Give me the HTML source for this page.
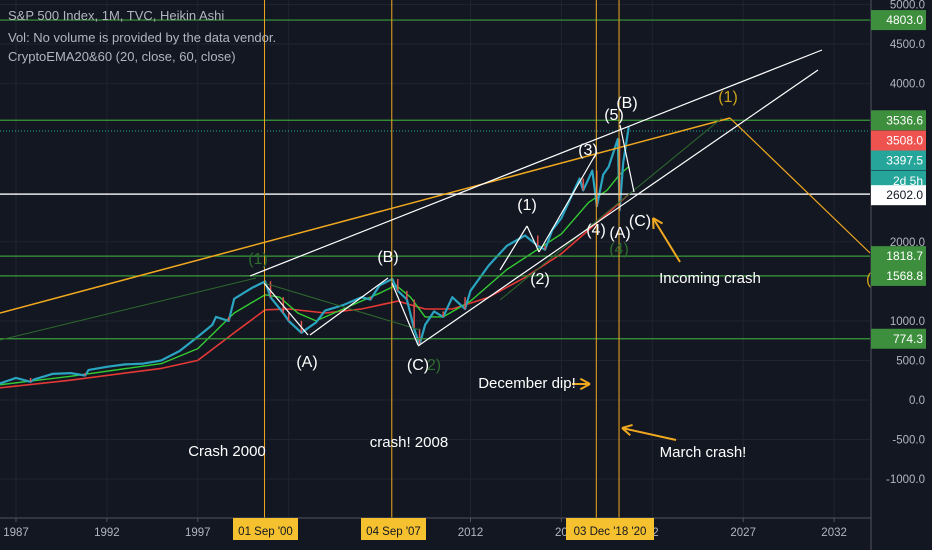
<!DOCTYPE html>
<html><head><meta charset="utf-8">
<style>
html,body{margin:0;padding:0;background:#131722;}
svg{display:block;font-family:"Liberation Sans",sans-serif;}
</style></head>
<body>
<svg id="chart" width="932" height="550" viewBox="0 0 932 550">
<rect x="0" y="0" width="932" height="550" fill="#131722"/>
<g id="grid"></g>
<g id="plot"></g>
<g id="annot"></g>
<g id="axes"></g>
</svg>
<script>
const priceYears=[1986,1987,1987.8,1988,1989,1990,1990.8,1991,1992,1993,1994,1995,1996,1997,1997.8,1998,1998.7,1999,1999.5,2000,2000.7,2001,2001.7,2002,2002.7,2003,2003.5,2004,2005,2006,2006.5,2007,2007.7,2008,2008.5,2008.9,2009.2,2009.5,2010,2010.5,2011,2011.7,2012,2013,2014,2015,2015.7,2016.1,2016.5,2017,2018,2018.2,2018.7,2018.95,2019.3,2019.6,2020.1,2020.2,2020.4,2020.7];
const priceValues=[200,280,230,260,330,340,310,380,420,450,460,500,620,800,950,1050,1000,1280,1350,1420,1500,1300,1100,1000,850,900,980,1130,1200,1300,1270,1450,1530,1380,1270,900,700,950,1120,1050,1300,1150,1380,1700,1950,2080,1950,1900,2150,2300,2800,2650,2900,2450,2850,2950,3300,2400,3000,3450];
const ema20Years=[1986,1990,1995,1997,1999,2000.7,2001.5,2002.5,2003.5,2005,2007,2007.9,2008.7,2009.5,2010.5,2012,2014,2016,2017,2018.5,2019.5,2020.2,2020.7];
const ema20Values=[190,300,460,650,1100,1330,1300,1100,1000,1150,1350,1450,1300,1050,1050,1250,1650,1950,2100,2500,2650,2850,2950];
const ema60Years=[1986,1990,1995,1997,1999,2000.7,2002,2004,2006,2008,2009.5,2011,2013,2015,2017,2018.5,2019.5,2020.7];
const ema60Values=[150,250,400,500,850,1140,1150,1100,1150,1250,1150,1150,1300,1550,1850,2150,2350,2600];
const xTickYears=[1987,1992,1997,2002,2012,2017,2022,2027,2032];
const xTickLabels=["1987","1992","1997","","2012","20","22","2027","2032"];
const yTicks=[5000,4500,4000,2000,1000,500,0,-500,-1000];

const NS="http://www.w3.org/2000/svg";
const X=y=>16+(y-1987)*18.18;
const Y=v=>400-v*0.0791;
function mk(tag,attrs,parent,text){const e=document.createElementNS(NS,tag);for(const k in attrs)e.setAttribute(k,attrs[k]);if(text!==undefined)e.textContent=text;parent.appendChild(e);return e;}
const grid=document.getElementById('grid'),plot=document.getElementById('plot'),annot=document.getElementById('annot'),axes=document.getElementById('axes');

xTickYears.forEach(y=>{const l=mk('line',{x1:X(y),x2:X(y),y1:0,y2:518,stroke:'#1f2431','stroke-width':1},grid);

});
yTicks.forEach(v=>{const l=mk('line',{x1:0,x2:870,y1:Y(v),y2:Y(v),stroke:'#1f2431','stroke-width':1},grid);

});

function line(x1,y1,x2,y2,c,w,name,extra){const l=mk('line',Object.assign({x1,y1,x2,y2,stroke:c,'stroke-width':w},extra||{}),annot);return l;}
[4803,3536.6,1818.7,1568.8,774.3].forEach(v=>line(0,Y(v),870,Y(v),'#3a9a3a',1.2,'level-line'));
line(0,Y(2602),870,Y(2602),'#e8e8e8',1.5,'level-line-2602');
line(0,131,870,131,'#26a69a',1,'last-price-line',{'stroke-dasharray':'1,2'});
[2000.67,2007.67,2018.92,2020.17].forEach(y=>line(X(y),0,X(y),518,'#f0a81f',1,'event-line'));
line(0,313,730,118,'#f0a81f',1.5,'orange-trendline');
line(730,118,870,253,'#f0a81f',1.2,'orange-projection');
line(0,340,256,278,'#2e6b2e',1,'green-wave-line');
line(264,283,420,330,'#2e6b2e',1,'green-wave-line');
line(500,300,722,118,'#2e6b2e',1,'green-wave-line');
line(250,276,822,50,'#ffffff',1.2,'upper-channel');
line(418,346,818,70,'#ffffff',1.2,'lower-channel');

function poly(ys,vs,c,w,name,dash){const pts=ys.map((y,i)=>X(y).toFixed(1)+','+Y(vs[i]).toFixed(1)).join(' ');const p=mk('polyline',{points:pts,fill:'none',stroke:c,'stroke-width':w,'stroke-linejoin':'round'},plot);if(dash)p.setAttribute('stroke-dasharray',dash);}
poly(ema60Years,ema60Values,'#e53935',1.6,'ema60-line');
poly(ema20Years,ema20Values,'#33cc33',1.4,'ema20-line');
poly(priceYears,priceValues,'#2aa4c0',2.2,'price-line');
priceYears.forEach((y,i)=>{if(i>0&&priceValues[i]<priceValues[i-1]){const c=mk('line',{x1:X(y),x2:X(y),y1:Y(priceValues[i-1]),y2:Y(priceValues[i]),stroke:'#e0534f','stroke-width':1.5},plot);

}});

const zz=[[264,283,308,335],[310,335,388,278],[392,283,418,345],[500,270,527,226],[527,226,539,252],[539,252,597,152],[620,125,634,192]];
zz.forEach(s=>line(s[0],s[1],s[2],s[3],'#ffffff',1.2,'wave-path'));
function arrow(x1,y1,x2,y2,name){line(x1,y1,x2,y2,'#f0a81f',2,name);const a=Math.atan2(y1-y2,x1-x2);[0.5,-0.5].forEach(d=>line(x2,y2,x2+11*Math.cos(a+d),y2+11*Math.sin(a+d),'#f0a81f',2,name+'-head'));}
arrow(680,262,653,218,'incoming-arrow');
arrow(572,384,590,384,'december-arrow');
arrow(676,440,622,428,'march-arrow');

function txt(x,y,s,c,size,name,anchor){const t=mk('text',{x,y,fill:c,'font-size':size,'text-anchor':anchor||'middle'},annot,s);}
const W='#ffffff';
txt(258,264,'(1)','#2e6b2e',16,'wave-label');
txt(307,367,'(A)',W,16,'wave-label');
txt(388,262,'(B)',W,16,'wave-label');
txt(418,370,'(C)',W,16,'wave-label');
txt(434,370,'2)','#2e6b2e',16,'wave-label');
txt(527,210,'(1)',W,16,'wave-label');
txt(540,284,'(2)',W,16,'wave-label');
txt(588,155,'(3)',W,16,'wave-label');
txt(596,235,'(4)',W,16,'wave-label');
txt(614,120,'(5)',W,16,'wave-label');
txt(627,108,'(B)',W,16,'wave-label');
txt(620,238,'(A)',W,16,'wave-label');
txt(619,254,'(4)','#2e6b2e',16,'wave-label');
txt(640,226,'(C)',W,16,'wave-label');
txt(728,102,'(1)','#c9a21a',16,'wave-label');
txt(866,284,'(','#c9a21a',16,'wave-label','start');
txt(710,283,'Incoming crash',W,15,'incoming-crash-note');
txt(527,388,'December dip!',W,15,'december-dip-note');
txt(703,457,'March crash!',W,15,'march-crash-note');
txt(227,456,'Crash 2000',W,15,'crash-2000-note');
txt(409,447,'crash! 2008',W,15,'crash-2008-note');
txt(8,20,'S&P 500 Index, 1M, TVC, Heikin Ashi','#b2b5be',13,'legend-title','start');
txt(8,42,'Vol: No volume is provided by the data vendor.','#b2b5be',13,'legend-volume','start');
txt(8,61,'CryptoEMA20&60 (20, close, 60, close)','#b2b5be',13,'legend-ema','start');

mk('rect',{x:871,y:0,width:61,height:550,fill:'#131722'},axes);
mk('line',{x1:871,x2:871,y1:0,y2:550,stroke:'#50535e','stroke-width':1},axes);
mk('line',{x1:0,x2:871,y1:518,y2:518,stroke:'#50535e','stroke-width':1},axes);
yTicks.forEach(v=>{const t=mk('text',{x:925,y:Y(v)+4,fill:'#b2b5be','font-size':11.5,'text-anchor':'end'},axes,v.toFixed(1));

});
xTickYears.forEach((y,i)=>{const t=mk('text',{x:X(y),y:536,fill:'#b2b5be','font-size':11.5,'text-anchor':'middle'},axes,xTickLabels[i]);


mk('line',{x1:X(y),x2:X(y),y1:518,y2:522,stroke:'#50535e'},axes);});
function badge(label,bg,fg,y){const g=mk('g',{},axes);
mk('rect',{x:871,y:y-10,width:55,height:20,fill:bg},g);mk('text',{x:923,y:y+4,fill:fg,'font-size':12,'text-anchor':'end'},g,label);}
badge('4803.0','#3d8f3d','#fff',Y(4803));
badge('3536.6','#3d8f3d','#fff',Y(3536.6));
badge('3508.0','#ef5350','#fff',140.5);
badge('3397.5','#26a69a','#fff',160.5);
badge('2d 5h','#26a69a','#fff',181);
badge('2602.0','#ffffff','#131722',Y(2602)+1);
badge('1818.7','#3d8f3d','#fff',Y(1818.7));
badge('1568.8','#3d8f3d','#fff',Y(1568.8));
badge('774.3','#3d8f3d','#fff',Y(774.3));
function dbadge(x1,x2,label){const g=mk('g',{},axes);
mk('rect',{x:x1,y:518,width:x2-x1,height:22,fill:'#f6c12e'},g);mk('text',{x:(x1+x2)/2,y:535,fill:'#131722','font-size':11.5,'text-anchor':'middle'},g,label);}
dbadge(233,298,"01 Sep '00");
dbadge(361,426,"04 Sep '07");
dbadge(566,654,"03 Dec '18  '20");
</script>
</body></html>
